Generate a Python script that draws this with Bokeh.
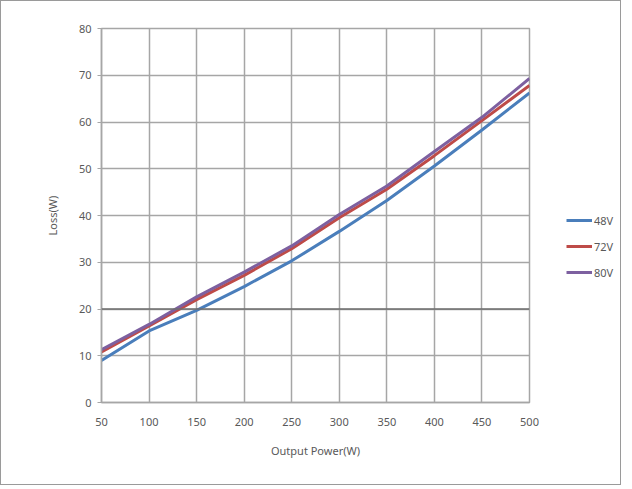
from bokeh.plotting import figure
from bokeh.layouts import row
from bokeh.models import Legend, LegendItem, Span, FixedTicker
from bokeh.embed import file_html
from bokeh.resources import INLINE

power = [50, 100, 150, 200, 250, 300, 350, 400, 450, 500]
loss_48v = [9.0, 15.3, 19.7, 24.8, 30.3, 36.6, 43.2, 50.6, 58.3, 66.2]
loss_72v = [10.8, 16.4, 22.0, 27.2, 32.9, 39.5, 45.6, 52.8, 60.3, 67.8]
loss_80v = [11.3, 16.7, 22.6, 27.9, 33.5, 40.2, 46.3, 53.7, 61.0, 69.3]
series_names = ["48V", "72V", "80V"]
x_ticks = [50, 100, 150, 200, 250, 300, 350, 400, 450, 500]
y_ticks = [0, 10, 20, 30, 40, 50, 60, 70, 80]

colors = ["#4A7EBB", "#BE4B48", "#7D60A0"]
FONT = "Noto Sans"
TXT = "#595959"
GRID = "#a6a6a6"
series = [loss_48v, loss_72v, loss_80v]

p = figure(frame_width=428, frame_height=374, x_range=(50, 500), y_range=(0, 80),
           output_backend="svg", toolbar_location=None,
           min_border_left=100, min_border_right=14, min_border_top=27, min_border_bottom=82)
p.outline_line_color = GRID
p.outline_line_width = 1.5

p.xaxis.ticker = FixedTicker(ticks=x_ticks)
p.yaxis.ticker = FixedTicker(ticks=y_ticks)
p.xgrid.ticker = FixedTicker(ticks=x_ticks)
p.ygrid.ticker = FixedTicker(ticks=y_ticks)
p.grid.grid_line_color = GRID
p.grid.grid_line_width = 1.5

for ax in (p.xaxis, p.yaxis):
    ax.axis_line_color = GRID
    ax.axis_line_width = 1.5
    ax.minor_tick_line_color = None
    ax.major_label_text_font = FONT
    ax.major_label_text_font_size = "11px"
    ax.major_label_text_color = TXT
    ax.axis_label_text_font = FONT
    ax.axis_label_text_font_size = "11px"
    ax.axis_label_text_color = TXT
    ax.axis_label_text_font_style = "normal"

p.xaxis.major_tick_line_color = None
p.xaxis.major_label_standoff = 9
p.xaxis.axis_label = "Output Power(W)"
p.xaxis.axis_label_standoff = 14
p.yaxis.major_tick_line_color = GRID
p.yaxis.major_tick_in = 0
p.yaxis.major_tick_out = 4
p.yaxis.major_label_standoff = 6
p.yaxis.axis_label = "Loss(W)"
p.yaxis.axis_label_standoff = 16

p.add_layout(Span(location=20, dimension="width", line_color="#6e6e6e", line_width=1.5))

for ys, c in zip(series, colors):
    p.line(power, ys, line_color=c, line_width=3)

# legend panel at the right of the chart (its lines lie outside its view; only the legend shows)
p2 = figure(width=77, height=483, x_range=(0, 1), y_range=(0, 1),
            x_axis_type=None, y_axis_type=None,
            output_backend="svg", toolbar_location=None, min_border=0)
p2.outline_line_color = None
legend_renderers = [p2.line(power, ys, line_color=c, line_width=3) for ys, c in zip(series, colors)]

legend = Legend(items=[LegendItem(label=n, renderers=[r]) for n, r in zip(series_names, legend_renderers)],
                location=(23, 117), padding=0, margin=0, spacing=0,
                glyph_width=26, glyph_height=26, label_standoff=2,
                border_line_color=None, background_fill_alpha=0,
                label_text_font=FONT, label_text_font_size="11px", label_text_color=TXT)
p2.add_layout(legend, "center")

layout = row(p, p2, styles={"border": "1px solid #9a9a9a"})

open("out.html", "w").write(file_html(layout, INLINE))
